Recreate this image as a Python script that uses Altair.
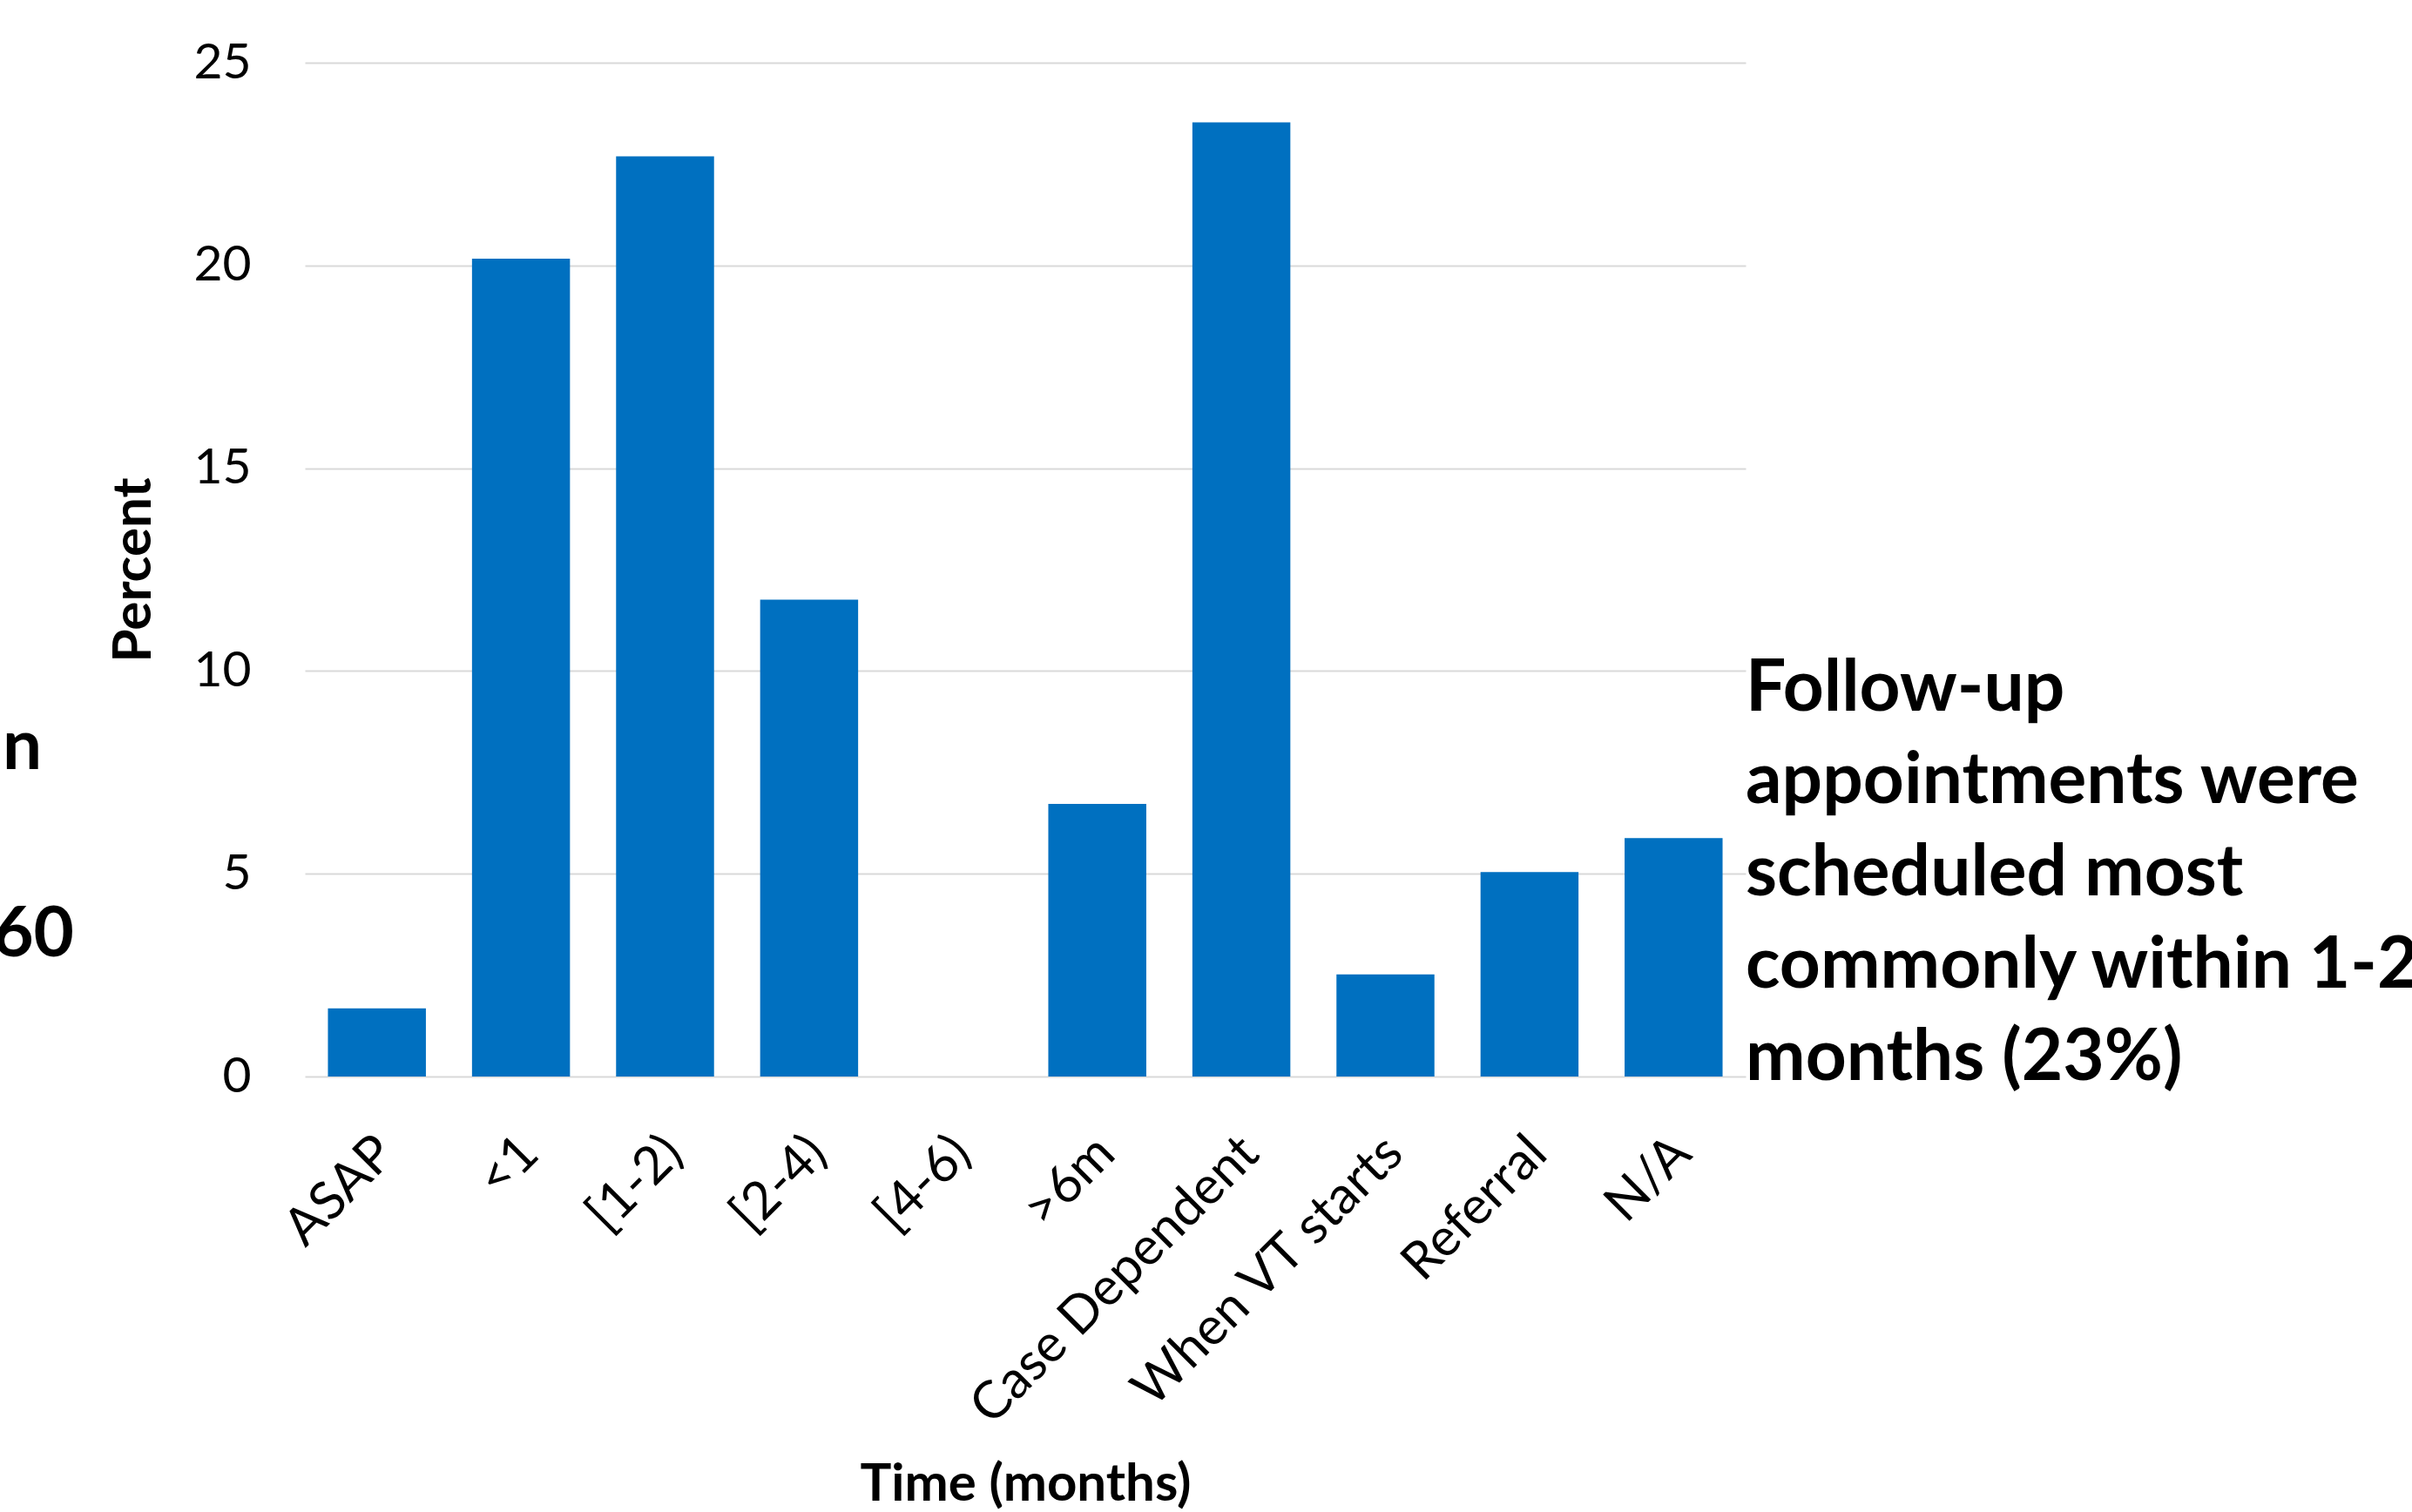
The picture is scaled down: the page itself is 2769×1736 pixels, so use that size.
import altair as alt
import pandas as pd

categories = ["ASAP", "<1", "[1-2)", "[2-4)", "[4-6)", ">6m",
              "Case Dependent", "When VT starts", "Referral", "N/A"]
percent = [1.68, 20.17, 22.69, 11.76, 0.0, 6.72, 23.53, 2.52, 5.04, 5.88]
y_ticks = [0, 5, 10, 15, 20, 25]
annotation_lines = ["Follow-up", "appointments were", "scheduled most",
                    "commonly within 1-2", "months (23%)"]
left_fragments = ["n", "60"]

df = pd.DataFrame({"Time": categories, "Percent": percent})

W, H = 1654, 1164
FONT = "Lato"

bars = alt.Chart(df).mark_bar(color="#0070C0").encode(
    x=alt.X("Time:N", sort=categories,
            scale=alt.Scale(paddingInner=0.32, paddingOuter=0.16),
            axis=alt.Axis(title="Time (months)", labelAngle=-45, labelLimit=0,
                          labelFontSize=60, labelFont=FONT, labelColor="#000000",
                          labelPadding=58, labelOffset=-10, ticks=False, domain=False,
                          titleFont=FONT, titleFontSize=60, titleFontWeight="bold",
                          titleColor="#000000", titleY=486,
                          titleBaseline="alphabetic")),
    y=alt.Y("Percent:Q", scale=alt.Scale(domain=[0, 25]),
            axis=alt.Axis(title="Percent", values=y_ticks, grid=True,
                          gridColor="#d9d9d9", gridWidth=2, domain=False,
                          ticks=False, labelFontSize=57, labelFont=FONT,
                          labelColor="#000000", labelPadding=62,
                          titleFont=FONT, titleFontSize=62, titleFontWeight="bold",
                          titleColor="#000000", titlePadding=36)),
)

one = pd.DataFrame({"k": [0]})

annotation = alt.Chart(one).mark_text(
    text=annotation_lines, align="left", baseline="alphabetic",
    font=FONT, fontSize=82, fontWeight="bold", color="#000000",
    lineHeight=106,
).encode(x=alt.value(W), y=alt.value(744))

frag_n = alt.Chart(one).mark_text(
    text=left_fragments[0], align="right", baseline="alphabetic",
    font=FONT, fontSize=80, fontWeight="bold", color="#000000",
).encode(x=alt.value(-302), y=alt.value(811))

frag_60 = alt.Chart(one).mark_text(
    text=left_fragments[1], align="right", baseline="alphabetic",
    font=FONT, fontSize=80, fontWeight="bold", color="#000000",
).encode(x=alt.value(-265), y=alt.value(1026))

chart = alt.layer(bars, annotation, frag_n, frag_60).properties(
    width=W, height=H,
    autosize=alt.AutoSizeParams(type="none"),
    padding={"left": 350, "top": 72, "right": 765, "bottom": 500},
    background="white",
).configure_view(stroke=None)

chart.save("out.html", embed_options={"renderer": "svg", "actions": False})
